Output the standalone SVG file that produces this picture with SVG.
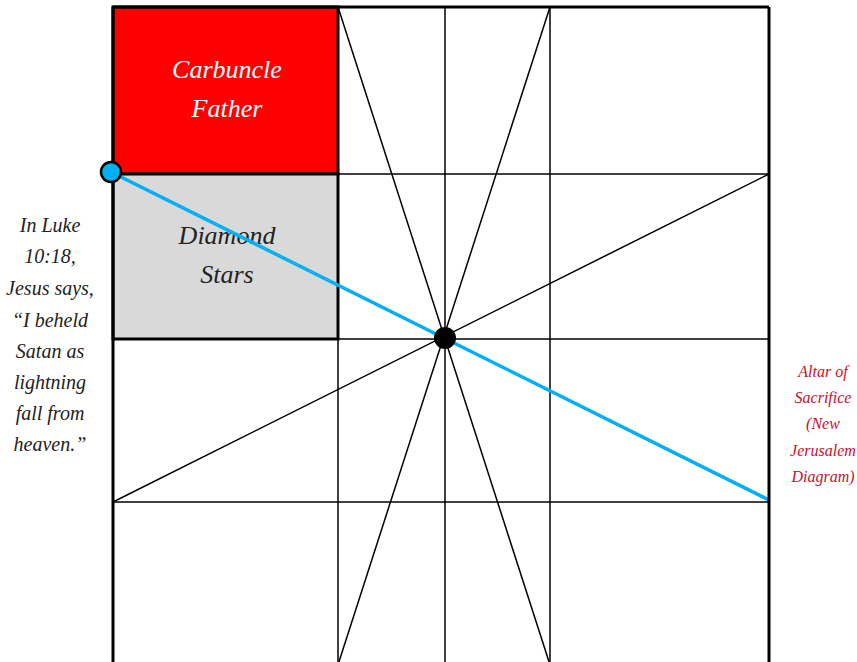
<svg xmlns="http://www.w3.org/2000/svg" width="857" height="662" viewBox="0 0 857 662">
<style>
.thin{stroke:#000;stroke-width:1.5;fill:none}
.thick{stroke:#000;stroke-width:3;fill:none}
.t{font-family:"Liberation Serif","DejaVu Serif",serif;font-style:italic;text-anchor:middle}
</style>
<rect width="857" height="662" fill="#fff"/>
<g id="grid">
<line class="thin" x1="338" y1="7" x2="338" y2="672"/>
<line class="thin" x1="445" y1="7" x2="445" y2="672"/>
<line class="thin" x1="550" y1="7" x2="550" y2="672"/>
<line class="thin" x1="113" y1="174" x2="769" y2="174"/>
<line class="thin" x1="113" y1="339" x2="769" y2="339"/>
<line class="thin" x1="113" y1="502" x2="769" y2="502"/>
</g>
<g id="box-carbuncle">
<rect x="113" y="7" width="225" height="167" fill="#ff0000" stroke="#000" stroke-width="3"/>
<text class="t" x="227" y="78" font-size="26" fill="#fff">Carbuncle</text>
<text class="t" x="227" y="117" font-size="26" fill="#fff">Father</text>
</g>
<g id="box-diamond">
<rect x="113" y="174" width="225" height="165" fill="#d9d9d9" stroke="#000" stroke-width="3"/>
<text class="t" x="227" y="244" font-size="26" fill="#222">Diamond</text>
<text class="t" x="227" y="283" font-size="26" fill="#222">Stars</text>
</g>
<g id="connectors">
<line class="thin" x1="338" y1="7" x2="552" y2="671"/>
<line class="thin" x1="550" y1="7" x2="336" y2="671"/>
<line class="thin" x1="113" y1="502" x2="769" y2="174"/>
<line stroke="#00b0f0" stroke-width="3.5" x1="111" y1="172" x2="769" y2="500"/>
</g>
<g id="frame">
<line class="thick" x1="113" y1="7" x2="769" y2="7"/>
<line class="thick" x1="113" y1="7" x2="113" y2="672"/>
<line class="thick" x1="769" y1="7" x2="769" y2="672"/>
</g>
<g id="point-start">
<circle cx="111" cy="172" r="10" fill="#00b0f0" stroke="#000" stroke-width="2.5"/>
</g>
<g id="point-center">
<circle cx="445" cy="338" r="11" fill="#000"/>
</g>
<g id="label-luke" class="t" font-size="20" fill="#222">
<text x="50" y="232">In Luke</text>
<text x="50" y="263">10:18,</text>
<text x="50" y="295">Jesus says,</text>
<text x="50" y="327">“I beheld</text>
<text x="50" y="358">Satan as</text>
<text x="50" y="389">lightning</text>
<text x="50" y="420">fall from</text>
<text x="50" y="451">heaven.”</text>
</g>
<g id="label-altar" class="t" font-size="16" fill="#c8102e">
<text x="823" y="377">Altar of</text>
<text x="823" y="403">Sacrifice</text>
<text x="823" y="429">(New</text>
<text x="823" y="456">Jerusalem</text>
<text x="823" y="482">Diagram)</text>
</g>
</svg>
